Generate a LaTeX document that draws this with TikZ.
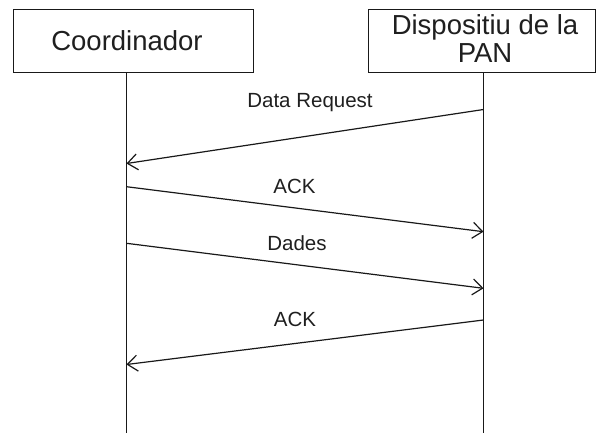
\documentclass[tikz,border=0pt]{standalone}
\usepackage{fontspec}
\setmainfont{Liberation Sans}
\usetikzlibrary{arrows.meta}
\begin{document}
\begin{tikzpicture}[x=1pt,y=-1pt,
  ink/.style={draw=black!90, line width=1.2pt},
  actorbox/.style={ink, fill=white, inner sep=0pt, anchor=north west, minimum height=63pt},
  actorname/.style={font=\fontsize{27.5}{28}\selectfont, text=black!88, inner sep=0pt},
  msglabel/.style={font=\fontsize{20.5}{24}\selectfont, text=black!88, anchor=base, inner sep=0pt},
  lifeline/.style={ink},
  msg/.style={ink, -{Straight Barb[length=10pt,width=16pt,line width=1.2pt]}}
]
\useasboundingbox (0,0) rectangle (596,432);

% participants
\node[actorbox, minimum width=240pt] (coordbox) at (13,9) {};
\node[actorbox, minimum width=227pt] (panbox) at (368,9) {};
\node[actorname, anchor=base] (coordname) at (127,50) {Coordinador};
\node[actorname, align=center, anchor=center] (panname) at (485,39) {Dispositiu de la\\PAN};

% lifelines
\coordinate (cEnd) at (126.5,434);
\coordinate (pEnd) at (483.5,434);
\draw[lifeline] (coordbox.south -| cEnd) -- (cEnd);
\draw[lifeline] (panbox.south -| pEnd) -- (pEnd);

% message end points on the lifelines
\coordinate (p1) at (483.5,109.5);  \coordinate (c1) at (126.5,163.5);
\coordinate (c2) at (126.5,186.7);  \coordinate (p2) at (483.5,231.7);
\coordinate (c3) at (126.5,243.3);  \coordinate (p3) at (483.5,288.3);
\coordinate (p4) at (483.5,320.0);  \coordinate (c4) at (126.5,364.5);

% messages
\draw[msg] (p1) -- (c1);
\node[msglabel] (l1) at (310,107.7) {Data Request};
\draw[msg] (c2) -- (p2);
\node[msglabel] (l2) at (294.5,193.3) {ACK};
\draw[msg] (c3) -- (p3);
\node[msglabel] (l3) at (297,250) {Dades};
\draw[msg] (p4) -- (c4);
\node[msglabel] (l4) at (295,326) {ACK};
\end{tikzpicture}
\end{document}
